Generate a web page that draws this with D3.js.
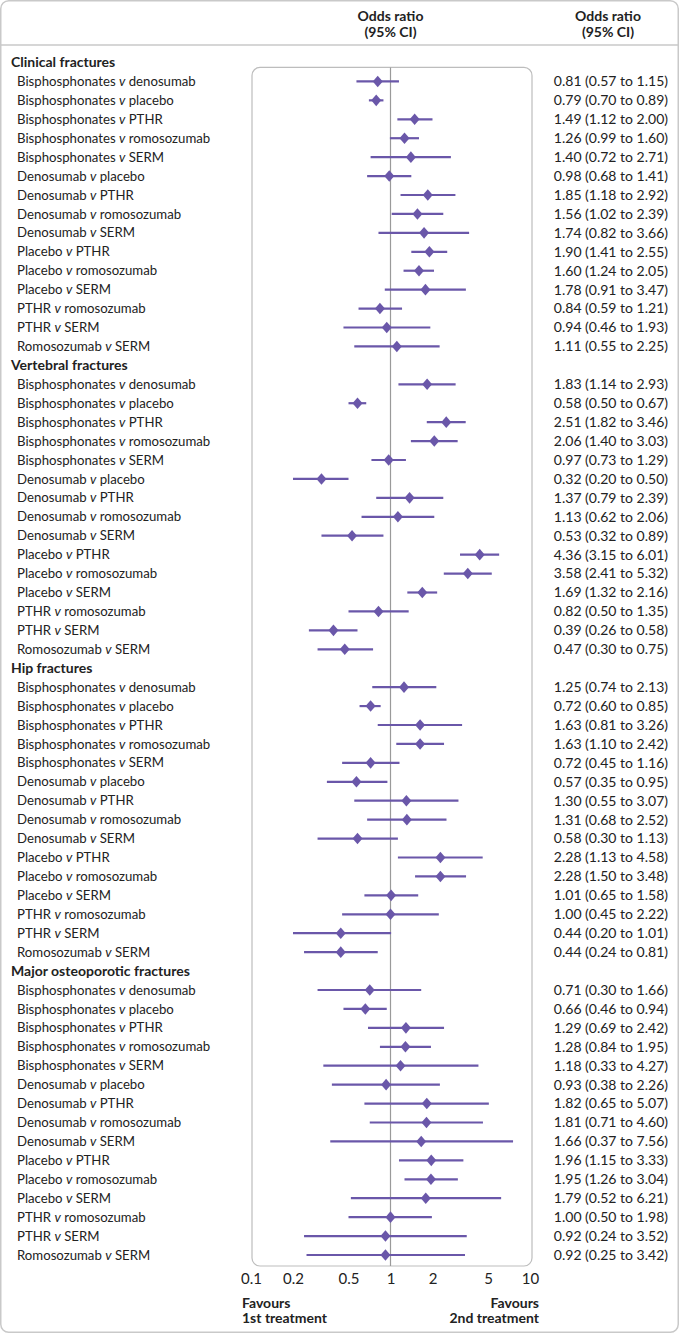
<!DOCTYPE html>
<html>
<head>
<meta charset="utf-8">
<script src="https://cdn.jsdelivr.net/npm/d3@7"></script>
<style>
  html, body { margin: 0; padding: 0; background: #fff; }
  svg { display: block; }
  text { font-family: Lato, "Open Sans", sans-serif; fill: #222; }
</style>
</head>
<body>
<svg id="chart" width="679" height="1333"></svg>
<script>
// ---- Data ----
const groups = ["Clinical fractures", "Vertebral fractures", "Hip fractures", "Major osteoporotic fractures"];
const comparisons = [
  ["Bisphosphonates", "denosumab"], ["Bisphosphonates", "placebo"], ["Bisphosphonates", "PTHR"],
  ["Bisphosphonates", "romosozumab"], ["Bisphosphonates", "SERM"], ["Denosumab", "placebo"],
  ["Denosumab", "PTHR"], ["Denosumab", "romosozumab"], ["Denosumab", "SERM"],
  ["Placebo", "PTHR"], ["Placebo", "romosozumab"], ["Placebo", "SERM"],
  ["PTHR", "romosozumab"], ["PTHR", "SERM"], ["Romosozumab", "SERM"]
];
const clinicalOR = [0.81,0.79,1.49,1.26,1.40,0.98,1.85,1.56,1.74,1.90,1.60,1.78,0.84,0.94,1.11];
const clinicalLo = [0.57,0.70,1.12,0.99,0.72,0.68,1.18,1.02,0.82,1.41,1.24,0.91,0.59,0.46,0.55];
const clinicalHi = [1.15,0.89,2.00,1.60,2.71,1.41,2.92,2.39,3.66,2.55,2.05,3.47,1.21,1.93,2.25];
const vertebralOR = [1.83,0.58,2.51,2.06,0.97,0.32,1.37,1.13,0.53,4.36,3.58,1.69,0.82,0.39,0.47];
const vertebralLo = [1.14,0.50,1.82,1.40,0.73,0.20,0.79,0.62,0.32,3.15,2.41,1.32,0.50,0.26,0.30];
const vertebralHi = [2.93,0.67,3.46,3.03,1.29,0.50,2.39,2.06,0.89,6.01,5.32,2.16,1.35,0.58,0.75];
const hipOR = [1.25,0.72,1.63,1.63,0.72,0.57,1.30,1.31,0.58,2.28,2.28,1.01,1.00,0.44,0.44];
const hipLo = [0.74,0.60,0.81,1.10,0.45,0.35,0.55,0.68,0.30,1.13,1.50,0.65,0.45,0.20,0.24];
const hipHi = [2.13,0.85,3.26,2.42,1.16,0.95,3.07,2.52,1.13,4.58,3.48,1.58,2.22,1.01,0.81];
const majorOR = [0.71,0.66,1.29,1.28,1.18,0.93,1.82,1.81,1.66,1.96,1.95,1.79,1.00,0.92,0.92];
const majorLo = [0.30,0.46,0.69,0.84,0.33,0.38,0.65,0.71,0.37,1.15,1.26,0.52,0.50,0.24,0.25];
const majorHi = [1.66,0.94,2.42,1.95,4.27,2.26,5.07,4.60,7.56,3.33,3.04,6.21,1.98,3.52,3.42];
const tickValues = [0.1, 0.2, 0.5, 1, 2, 5, 10];
const tickLabels = ["0.1", "0.2", "0.5", "1", "2", "5", "10"];

const seriesOR = [clinicalOR, vertebralOR, hipOR, majorOR];
const seriesLo = [clinicalLo, vertebralLo, hipLo, majorLo];
const seriesHi = [clinicalHi, vertebralHi, hipHi, majorHi];

// ---- Build rows ----
const rows = [];
groups.forEach((g, gi) => {
  rows.push({type: "header", label: g});
  comparisons.forEach((c, ci) => {
    rows.push({type: "item", a: c[0], b: c[1],
      or: seriesOR[gi][ci], lo: seriesLo[gi][ci], hi: seriesHi[gi][ci]});
  });
});

const svg = d3.select("#chart");
const W = 679, H = 1333;
const purple = "#6a57a9";

const x = d3.scaleLog().domain([0.1, 10]).range([251, 530]);
const y = d3.scalePoint().domain(d3.range(rows.length)).range([62.5, 1255]);

// outer border
svg.append("rect").attr("x", 0.75).attr("y", 0.75).attr("width", W - 1.5).attr("height", H - 1.5)
  .attr("rx", 8).attr("fill", "none").attr("stroke", "#c9c9c9").attr("stroke-width", 1.5);

// header separator
svg.append("line").attr("x1", 1).attr("x2", W - 1).attr("y1", 45).attr("y2", 45)
  .attr("stroke", "#c9c9c9").attr("stroke-width", 1.5);

// column headers
const hdr = [{cx: x(1), lines: ["Odds ratio", "(95% CI)"]}, {cx: 608, lines: ["Odds ratio", "(95% CI)"]}];
hdr.forEach(h => {
  h.lines.forEach((l, i) => {
    svg.append("text").attr("x", h.cx).attr("y", 16 + i * 16.5).attr("dy", "0.35em")
      .attr("text-anchor", "middle").attr("font-size", 14).attr("font-weight", 700)
      .attr("fill", "#333").text(l);
  });
});

// plot box
const boxTop = y(1) - 14, boxBot = y(rows.length - 1) + 11;
svg.append("rect").attr("x", 252).attr("y", boxTop).attr("width", 280).attr("height", boxBot - boxTop)
  .attr("rx", 8).attr("fill", "none").attr("stroke", "#bdbdbd").attr("stroke-width", 1.2);

// reference line at 1
svg.append("line").attr("x1", x(1)).attr("x2", x(1)).attr("y1", boxTop).attr("y2", boxBot)
  .attr("stroke", "#9a9a9a").attr("stroke-width", 1.2);

// axis tick labels
const axis = d3.axisBottom(x).tickValues(tickValues).tickFormat((d, i) => tickLabels[i]).tickSize(0).tickPadding(0);
const axG = svg.append("g").attr("transform", `translate(0, ${boxBot + 7})`).call(axis);
axG.select(".domain").remove();
axG.selectAll("text").attr("font-size", 15).attr("fill", "#333")
  .style("font-family", 'Lato, "Open Sans", sans-serif');

// favours labels
[["Favours", "1st treatment"]].forEach(ls => ls.forEach((l, i) => {
  svg.append("text").attr("x", 242).attr("y", 1303 + i * 15).attr("dy", "0.35em")
    .attr("font-size", 14).attr("font-weight", 700).attr("fill", "#333").text(l);
}));
[["Favours", "2nd treatment"]].forEach(ls => ls.forEach((l, i) => {
  svg.append("text").attr("x", 539).attr("y", 1303 + i * 15).attr("dy", "0.35em")
    .attr("text-anchor", "end").attr("font-size", 14).attr("font-weight", 700).attr("fill", "#333").text(l);
}));

// rows
rows.forEach((r, i) => {
  const yy = y(i);
  if (r.type === "header") {
    svg.append("text").attr("x", 11).attr("y", yy).attr("dy", "0.35em")
      .attr("font-size", 14).attr("font-weight", 700).text(r.label);
    return;
  }
  const t = svg.append("text").attr("x", 17).attr("y", yy).attr("dy", "0.35em").attr("font-size", 13.2);
  t.append("tspan").text(r.a + " ");
  t.append("tspan").attr("font-style", "italic").text("v");
  t.append("tspan").text(" " + r.b);

  svg.append("line").attr("x1", x(r.lo)).attr("x2", x(r.hi)).attr("y1", yy).attr("y2", yy)
    .attr("stroke", purple).attr("stroke-width", 2.2);
  const cx = x(r.or), dw = 5, dh = 5.8;
  svg.append("path").attr("d", `M${cx},${yy - dh}L${cx + dw},${yy}L${cx},${yy + dh}L${cx - dw},${yy}Z`)
    .attr("fill", purple);

  svg.append("text").attr("x", 668).attr("y", yy).attr("dy", "0.35em").attr("text-anchor", "end")
    .attr("font-size", 14)
    .text(`${r.or.toFixed(2)} (${r.lo.toFixed(2)} to ${r.hi.toFixed(2)})`);
});
</script>
</body>
</html>
